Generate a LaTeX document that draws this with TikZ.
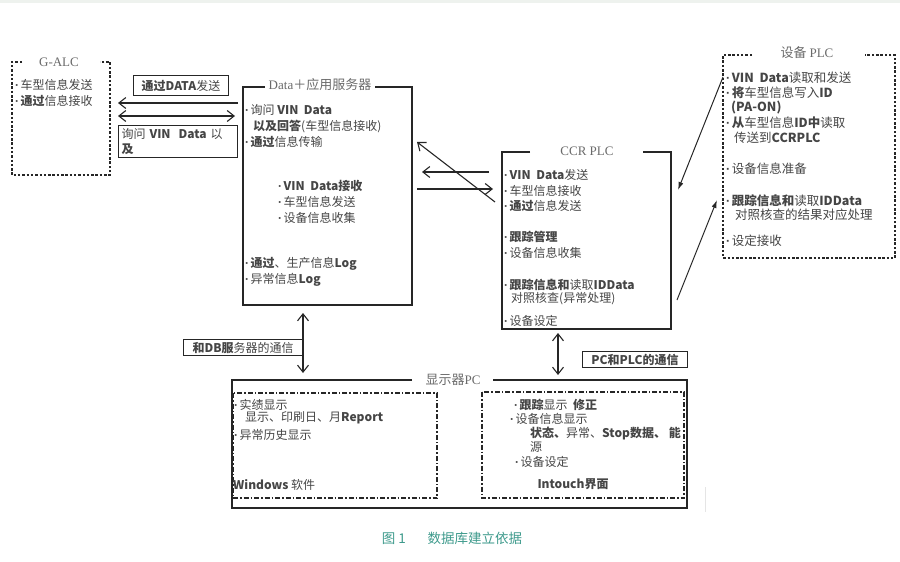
\documentclass[tikz,border=0pt]{standalone}
\usepackage{fontspec}
\setmainfont{Noto Sans CJK SC}
\newfontfamily\seriffont{Liberation Serif}
\newfontfamily\latinsans{Liberation Sans}
\newcommand\bu{{\latinsans\bfseries ·}\kern1.5pt}
\usetikzlibrary{arrows.meta}
\definecolor{txt}{HTML}{454545}
\definecolor{dark}{HTML}{262626}
\definecolor{ttlc}{HTML}{6A6A6A}
\definecolor{capc}{HTML}{3E9A8C}
\definecolor{strip}{HTML}{EEF2EE}
\begin{document}
\begin{tikzpicture}[x=1pt,y=-1pt,
  t/.style={anchor=west,inner sep=0pt,text=txt,font=\fontsize{12}{14}\selectfont},
  tp/.style={t,font=\fontsize{12.5}{14}\selectfont},
  ttl/.style={inner sep=1pt,text=ttlc,font=\fontsize{13}{15}\selectfont},
  sbox/.style={draw=dark,line width=1.1pt},
  dbox/.style={draw=dark,line width=1.6pt,dash pattern=on 2.5pt off 1.8pt},
  ddbox/.style={draw=dark,line width=1.1pt,dash pattern=on 5pt off 2pt on 1.5pt off 2pt},
  lbox/.style={draw=dark,line width=1.1pt,anchor=north west,text=txt,inner sep=2pt,font=\fontsize{12}{15}\selectfont},
  arr/.style={draw=dark,line width=1.1pt,-{Straight Barb[length=7pt,width=11pt]}},
  darr/.style={draw=dark,line width=1.1pt,{Straight Barb[length=7pt,width=11pt]}-{Straight Barb[length=7pt,width=11pt]}},
  farr/.style={draw=dark,line width=1pt,-{Latex[length=8pt,width=5pt]}}
]
\useasboundingbox (0,0) rectangle (900,562);
\fill[strip] (0,0) rectangle (900,3);
\draw[gray!20,line width=0.8pt] (705,487) -- (705,512);

% ---------------- G-ALC ----------------
\draw[dbox] (22,62) -- (12,62) -- (12,175) -- (110,175) -- (110,62) -- (100,62);
\node[ttl] (galc) at (59,62) {\seriffont G-ALC};
\node[t] (ga1) at (15,85) {\bu 车型信息发送};
\node[t] (ga2) at (15,101) {\bu\textbf{通过}信息接收};

% labels left
\node[lbox,minimum width=95pt,minimum height=20pt] (lb1) at (133,75) {\textbf{通过DATA}发送};
\node[lbox,minimum width=119pt,minimum height=32pt,text width=113pt,align=left,inner sep=3pt] (lb2) at (118,125) {询问 \textbf{VIN\ \ Data} 以\\\textbf{及}};

% ---------------- Server ----------------
\draw[sbox] (265,87) -- (243,87) -- (243,305) -- (412,305) -- (412,87) -- (375,87);
\node[ttl] (srv) at (320,85) {\seriffont Data\rmfamily＋应用服务器};
\node[t] (s1t) at (245,110) {\bu 询问 \textbf{VIN\ \ Data}};
\node[t] (s2t) at (253,126) {\textbf{以及回答}(车型信息接收)};
\node[t] (s3t) at (245,142) {\bu\textbf{通过}信息传输};
\node[t] (s4t) at (278,186) {\bu\textbf{VIN\ \ Data接收}};
\node[t] (s5t) at (278,202) {\bu 车型信息发送};
\node[t] (s6t) at (278,218) {\bu 设备信息收集};
\node[t] (s7t) at (245,264) {\bu\textbf{通过}、生产信息\textbf{Log}};
\node[t] (s8t) at (245,280) {\bu 异常信息\textbf{Log}};

% ---------------- CCR PLC ----------------
\draw[sbox] (530,152) -- (502,152) -- (502,329) -- (671,329) -- (671,152) -- (643,152);
\node[ttl] (ccr) at (587,151) {\seriffont CCR PLC};
\node[t] (c1t) at (504,175) {\bu\textbf{VIN\ \ Data}发送};
\node[t] (c2t) at (504,191) {\bu 车型信息接收};
\node[t] (c3t) at (504,206) {\bu\textbf{通过}信息发送};
\node[t] (c4t) at (504,237) {\bu\textbf{跟踪管理}};
\node[t] (c5t) at (504,253) {\bu 设备信息收集};
\node[t] (c6t) at (504,285) {\bu\textbf{跟踪信息和}读取\textbf{IDData}};
\node[t] (c7t) at (511,299) {对照核查(异常处理)};
\node[t] (c8t) at (504,321) {\bu 设备设定};

% ---------------- 设备 PLC ----------------
\draw[dbox] (752,55) -- (723,55) -- (723,258) -- (895,258) -- (895,55) -- (865,55);
\node[ttl] (eq) at (807,53) {设备 \seriffont PLC};
\node[tp] (e1t) at (726,78) {\bu\textbf{VIN\ \ Data}读取和发送};
\node[tp] (e2t) at (726,93) {\bu\textbf{将}车型信息写入\textbf{ID}};
\node[tp] (e3t) at (731,108) {\textbf{(PA-ON)}};
\node[tp] (e4t) at (726,123) {\bu\textbf{从}车型信息\textbf{ID中}读取};
\node[tp] (e5t) at (734,138) {传送到\textbf{CCRPLC}};
\node[tp] (e6t) at (726,169) {\bu 设备信息准备};
\node[tp] (e7t) at (726,201) {\bu\textbf{跟踪信息和}读取\textbf{IDData}};
\node[tp] (e8t) at (735,215) {对照核查的结果对应处理};
\node[tp] (e9t) at (726,241) {\bu 设定接收};

% ---------------- 显示器PC ----------------
\draw[sbox] (412,380) -- (232,380) -- (232,508) -- (687,508) -- (687,380) -- (493,380);
\node[ttl] (pc) at (453,380) {显示器\seriffont PC};
\draw[ddbox] (233,393) rectangle (437,498);
\draw[ddbox] (482,392) rectangle (684,498);
\node[t] (p1t) at (234,405) {\bu 实绩显示};
\node[t] (p2t) at (245,418) {显示、印刷日、月\textbf{Report}};
\node[t] (p3t) at (234,435) {\bu 异常历史显示};
\node[t] (p4t) at (233,485) {\textbf{Windows} 软件};
\node[t] (q1t) at (514,405) {\bu\textbf{跟踪}显示\ \ \textbf{修正}};
\node[t] (q2t) at (510,419) {\bu 设备信息显示};
\node[t] (q3t) at (530,434) {\textbf{状态、}异常、\textbf{Stop数据、\ 能}};
\node[t] (q4t) at (530,447) {源};
\node[t] (q5t) at (515,462) {\bu 设备设定};
\node[t,anchor=center] (q6t) at (573,484) {\textbf{Intouch界面}};

% labels bottom
\node[lbox,minimum width=119pt,minimum height=16pt,inner sep=1pt] (lb3) at (183,339) {\textbf{和DB服}务器的通信};
\node[lbox,minimum width=105pt,minimum height=16pt,inner sep=1pt] (lb4) at (582,351) {\textbf{PC和PLC的通信}};

% ---------------- connectors ----------------
\coordinate (g1) at (238,103);
\coordinate (g2) at (118,103);
\coordinate (g3) at (118,116);
\coordinate (g4) at (235,116);
\draw[arr] (g1) -- (g2);
\draw[darr] (g3) -- (g4);

\coordinate (cd1) at (495,202);
\coordinate (sd1) at (417,142);
\coordinate (cd2) at (489,172);
\coordinate (sd2) at (422,172);
\coordinate (sd3) at (417,189);
\coordinate (cd3) at (493,189);
\draw[arr] (cd1) -- (sd1);
\draw[arr] (cd2) -- (sd2);
\draw[arr] (sd3) -- (cd3);

\coordinate (pa1) at (723,77);
\coordinate (ca4) at (678,190);
\coordinate (ca5) at (677,300);
\coordinate (pa2) at (717,200);
\draw[farr] (pa1) -- (ca4);
\draw[farr] (ca5) -- (pa2);

\coordinate (sv) at (303,313);
\coordinate (pcv1) at (303,373);
\coordinate (cv) at (558,333);
\coordinate (pcv2) at (558,375);
\draw[darr] (sv) -- (pcv1);
\draw[darr] (cv) -- (pcv2);

% caption
\node[text=capc,font=\fontsize{13.5}{16}\selectfont,inner sep=0pt] (cap) at (452,538) {图 1\hspace{1.6em}数据库建立依据};
\end{tikzpicture}
\end{document}
